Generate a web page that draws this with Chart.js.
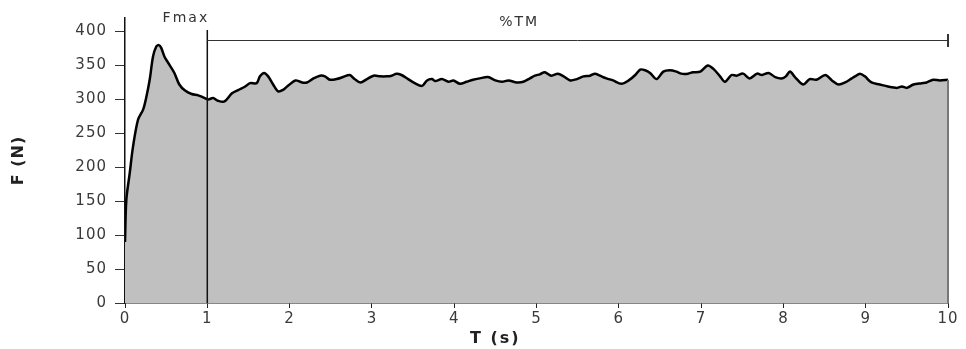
<!DOCTYPE html>
<html>
<head>
<meta charset="utf-8">
<script src="https://cdn.jsdelivr.net/npm/chart.js@4.4.1/dist/chart.umd.min.js"></script>
<style>
  html, body { margin: 0; padding: 0; background: #fff; }
  #wrap { width: 966px; height: 349px; }
</style>
</head>
<body>
<div id="wrap"><canvas id="forceChart" width="966" height="349"></canvas></div>
<script>
// time (s) and force (N)
const times = [0, 0.016, 0.057, 0.097, 0.158, 0.22, 0.26, 0.30, 0.34, 0.38, 0.41, 0.44, 0.48, 0.54, 0.60, 0.66, 0.73, 0.81, 0.89, 0.95,
  1.01, 1.07, 1.13, 1.21, 1.30, 1.38, 1.46, 1.52, 1.60, 1.64, 1.69, 1.74, 1.80, 1.86, 1.92, 1.98, 2.07, 2.15, 2.21, 2.29, 2.37, 2.43,
  2.49, 2.57, 2.65, 2.73, 2.79, 2.86, 2.94, 3.02, 3.10, 3.18, 3.24, 3.30, 3.36, 3.44, 3.52, 3.61, 3.67, 3.73, 3.77,
  3.85, 3.93, 3.99, 4.07, 4.15, 4.23, 4.31, 4.41, 4.50, 4.58, 4.66, 4.76, 4.84, 4.92, 4.98, 5.04,
  5.10, 5.18, 5.26, 5.33, 5.41, 5.49, 5.57, 5.65, 5.71, 5.77, 5.85, 5.93, 6.03, 6.12, 6.20, 6.26, 6.32,
  6.38, 6.46, 6.54, 6.62, 6.70, 6.76, 6.84, 6.90, 6.99, 7.08, 7.15, 7.23, 7.29, 7.37, 7.43, 7.51, 7.59,
  7.68, 7.74, 7.82, 7.90, 7.98, 8.03, 8.08, 8.14, 8.24, 8.32, 8.40, 8.51, 8.59, 8.67, 8.75, 8.83, 8.87,
  8.93, 8.99, 9.07, 9.17, 9.27, 9.38, 9.44, 9.50, 9.58, 9.68, 9.74, 9.82, 9.90, 10.0];
const forces = [90, 152, 191, 230, 270, 285, 304, 329, 363, 378, 380, 376, 363, 351, 339, 322, 313, 308, 306, 303,
  300, 302, 298, 297, 309, 314, 319, 324, 324, 334, 339, 334, 322, 312, 314, 320, 328, 325, 325, 331, 335, 334,
  329, 330, 333, 336, 330, 325, 330, 335, 334, 334, 335, 338, 336, 330, 324, 320, 328, 330, 327,
  330, 326, 328, 323, 326, 329, 331, 333, 328, 326, 328, 325, 326, 331, 335, 337,
  340, 335, 338, 334, 328, 330, 334, 335, 338, 335, 331, 328, 323, 328, 336, 344, 343,
  339, 330, 341, 343, 341, 338, 338, 340, 341, 350, 345, 334, 326, 336, 335, 338, 331,
  338, 336, 339, 333, 331, 334, 341, 333, 322, 330, 329, 336, 328, 322, 325, 331, 334,
  338, 334, 325, 322, 319, 317, 319, 317, 322, 324, 325, 329, 328, 329];
const xTicks = [0, 1, 2, 3, 4, 5, 6, 7, 8, 9, 10];
const yTickStep = 25;
const yLabelStep = 50;

const points = times.map((t, i) => ({ x: t, y: forces[i] }));

// the reference lettering is wide, so space the letters out a little
const wideText = {
    id: 'wideText',
    beforeDraw(chart) { chart.ctx.letterSpacing = '1px'; },
    afterDraw(chart) { chart.ctx.letterSpacing = '0px'; }
};

// Fmax marker, %TM bracket, x title and the closing edge of the filled area
const markers = {
    id: 'markers',
    afterDatasetsDraw(chart) {
        const { ctx, scales: { x, y } } = chart;
        const x1 = x.getPixelForValue(1), x10 = x.getPixelForValue(10);
        const bottom = y.getPixelForValue(0);
        ctx.save();
        // right edge of the area
        ctx.strokeStyle = '#777';
        ctx.lineWidth = 2;
        ctx.beginPath();
        ctx.moveTo(x10, y.getPixelForValue(forces[forces.length - 1]));
        ctx.lineTo(x10, bottom);
        ctx.stroke();
        // vertical line at 1 s
        ctx.strokeStyle = '#111';
        ctx.lineWidth = 1.5;
        ctx.beginPath();
        ctx.moveTo(x1, 30);
        ctx.lineTo(x1, bottom);
        ctx.stroke();
        // %TM bracket
        ctx.strokeStyle = '#333';
        ctx.lineWidth = 1;
        ctx.beginPath();
        ctx.moveTo(x1, 40.5);
        ctx.lineTo(x10, 40.5);
        ctx.stroke();
        ctx.lineWidth = 2;
        ctx.beginPath();
        ctx.moveTo(x10, 34);
        ctx.lineTo(x10, 47);
        ctx.stroke();
        // labels
        ctx.fillStyle = '#333';
        ctx.font = '14px "DejaVu Sans"';
        ctx.letterSpacing = '2px';
        ctx.textAlign = 'center';
        ctx.textBaseline = 'middle';
        ctx.fillText('Fmax', x.getPixelForValue(0.74), 18);
        ctx.fillText('%TM', x.getPixelForValue(4.79), 22);
        ctx.fillStyle = '#222';
        ctx.font = 'bold 16px "DejaVu Sans"';
        ctx.fillText('T (s)', x.getPixelForValue(4.5), 339);
        ctx.restore();
    }
};

const ctx = document.getElementById('forceChart').getContext('2d');
new Chart(ctx, {
    type: 'line',
    data: {
        datasets: [{
            data: points,
            borderColor: '#000',
            borderWidth: 2.5,
            backgroundColor: '#c0c0c0',
            fill: 'origin',
            tension: 0.3,
            pointRadius: 0
        }]
    },
    options: {
        responsive: false,
        animation: false,
        layout: { padding: { top: 18, right: 18, left: 0, bottom: 0 } },
        plugins: { legend: { display: false }, tooltip: { enabled: false } },
        scales: {
            x: {
                type: 'linear',
                min: 0, max: 10,
                afterBuildTicks: s => { s.ticks = xTicks.map(v => ({ value: v })); },
                afterFit: s => { s.height = 46; },
                grid: { drawOnChartArea: false, tickLength: 5, color: '#222' },
                border: { color: '#111', width: 1.5 },
                ticks: { color: '#3a3a3a', font: { family: 'DejaVu Sans', size: 15 }, padding: 2, maxRotation: 0 }
            },
            y: {
                min: 0, max: 420,
                afterBuildTicks: s => {
                    const t = [];
                    for (let v = 0; v <= 400; v += yTickStep) t.push({ value: v });
                    s.ticks = t;
                },
                afterFit: s => { s.width = 125; },
                grid: { drawOnChartArea: false, tickLength: 10, color: '#333' },
                border: { color: '#111', width: 1.5 },
                ticks: {
                    color: '#3a3a3a',
                    font: { family: 'DejaVu Sans', size: 15 },
                    padding: 8,
                    callback: v => (v % yLabelStep === 0 ? v : '')
                },
                title: { display: true, text: 'F (N)', color: '#222', font: { family: 'DejaVu Sans', size: 16, weight: 'bold' }, padding: { top: 9, bottom: 0 } }
            }
        }
    },
    plugins: [wideText, markers]
});
</script>
</body>
</html>
